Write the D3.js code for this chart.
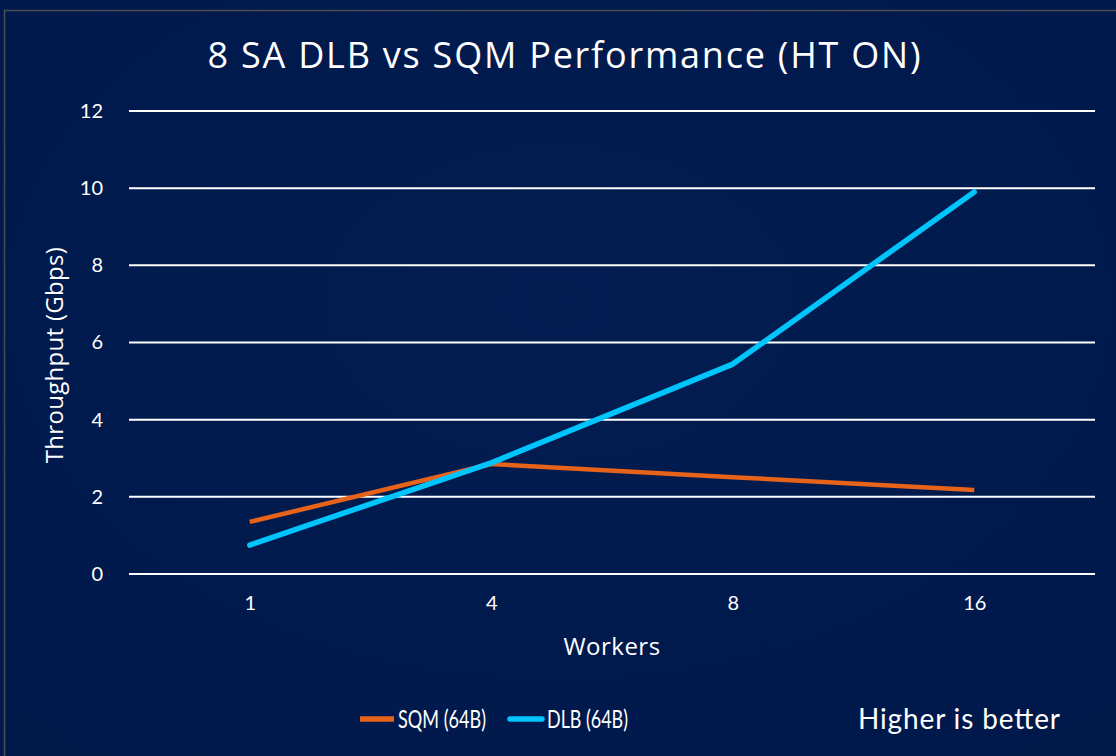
<!DOCTYPE html>
<html>
<head>
<meta charset="utf-8">
<script src="https://cdn.jsdelivr.net/npm/d3@7"></script>
<style>
  html, body { margin: 0; padding: 0; background: #011a4d; }
  svg { display: block; }
</style>
</head>
<body>
<div id="chart"></div>
<script>
// chart data
var workers = ["1", "4", "8", "16"];
var sqm = [1.35, 2.85, 2.51, 2.18];
var dlb = [0.75, 2.88, 5.44, 9.9];
var yTicks = [0, 2, 4, 6, 8, 10, 12];

var W = 1116, H = 756;
var margin = {top: 111, right: 21, bottom: 182, left: 129};
var width = W - margin.left - margin.right;
var height = H - margin.top - margin.bottom;
var font = "Lato, 'Open Sans', sans-serif";
var wide = "'Open Sans', Lato, sans-serif";

var root = d3.select("#chart").append("svg")
    .attr("width", W)
    .attr("height", H);

// background + frame
var grad = root.append("defs").append("radialGradient")
    .attr("id", "bg").attr("cx", "50%").attr("cy", "40%").attr("r", "75%");
grad.append("stop").attr("offset", "0%").attr("stop-color", "#031d52");
grad.append("stop").attr("offset", "100%").attr("stop-color", "#00184a");
root.append("rect").attr("width", W).attr("height", H).attr("fill", "url(#bg)");
root.append("rect")
    .attr("x", 4.5).attr("y", 10.5)
    .attr("width", W + 10).attr("height", H + 10)
    .attr("fill", "none")
    .attr("stroke", "#4a4d55")
    .attr("stroke-width", 1.5);

var svg = root.append("g")
    .attr("transform", "translate(" + margin.left + "," + margin.top + ")");

var x = d3.scalePoint()
    .domain(workers)
    .range([0, width])
    .padding(0.5);

var y = d3.scaleLinear()
    .domain([0, 12])
    .range([height, 0]);

// gridlines
svg.append("g")
  .selectAll("line")
  .data(yTicks)
  .enter()
  .append("line")
    .attr("x1", 0)
    .attr("x2", width)
    .attr("y1", function(d) { return y(d); })
    .attr("y2", function(d) { return y(d); })
    .attr("stroke", "#ffffff")
    .attr("stroke-width", 2);

// y axis labels
var yAxis = svg.append("g")
    .call(d3.axisLeft(y).tickValues(yTicks).tickSize(0).tickPadding(26));
yAxis.select(".domain").remove();
yAxis.selectAll("text")
    .attr("fill", "#ffffff")
    .attr("font-family", font)
    .attr("font-size", 20);

// x axis labels
var xAxis = svg.append("g")
    .attr("transform", "translate(0," + height + ")")
    .call(d3.axisBottom(x).tickSize(0).tickPadding(22));
xAxis.select(".domain").remove();
xAxis.selectAll("text")
    .attr("fill", "#ffffff")
    .attr("font-family", font)
    .attr("font-size", 20);

// lines
var line = d3.line()
    .x(function(d, i) { return x(workers[i]); })
    .y(function(d) { return y(d); });

svg.append("path")
    .datum(sqm)
    .attr("fill", "none")
    .attr("stroke", "#e8631a")
    .attr("stroke-width", 4.5)
    .attr("d", line);

svg.append("path")
    .datum(dlb)
    .attr("fill", "none")
    .attr("stroke", "#00c4fc")
    .attr("stroke-width", 5.5)
    .attr("stroke-linecap", "round")
    .attr("stroke-linejoin", "round")
    .attr("d", line);

// title + axis titles
root.append("text")
    .attr("x", 564)
    .attr("y", 68)
    .attr("text-anchor", "middle")
    .attr("fill", "#ffffff")
    .attr("font-family", wide)
    .attr("font-size", 36)
    .attr("textLength", 713)
    .attr("lengthAdjust", "spacing")
    .text("8 SA DLB vs SQM Performance (HT ON)");

root.append("text")
    .attr("transform", "translate(63,355) rotate(-90)")
    .attr("text-anchor", "middle")
    .attr("fill", "#ffffff")
    .attr("font-family", wide)
    .attr("font-size", 24)
    .attr("letter-spacing", 0.3)
    .text("Throughput (Gbps)");

root.append("text")
    .attr("x", 612)
    .attr("y", 655)
    .attr("text-anchor", "middle")
    .attr("fill", "#ffffff")
    .attr("font-family", wide)
    .attr("font-size", 24)
    .attr("letter-spacing", 0.5)
    .text("Workers");

// legend
var legend = root.append("g");
legend.append("line")
    .attr("x1", 360).attr("x2", 394).attr("y1", 719).attr("y2", 719)
    .attr("stroke", "#e8631a").attr("stroke-width", 5.5);
legend.append("text")
    .attr("x", 398).attr("y", 728)
    .attr("fill", "#ffffff").attr("font-family", font).attr("font-size", 25)
    .attr("textLength", 88).attr("lengthAdjust", "spacingAndGlyphs")
    .text("SQM (64B)");
legend.append("line")
    .attr("x1", 510).attr("x2", 542).attr("y1", 719).attr("y2", 719)
    .attr("stroke", "#00c4fc").attr("stroke-width", 5.5)
    .attr("stroke-linecap", "round");
legend.append("text")
    .attr("x", 547).attr("y", 728)
    .attr("fill", "#ffffff").attr("font-family", font).attr("font-size", 25)
    .attr("textLength", 81).attr("lengthAdjust", "spacingAndGlyphs")
    .text("DLB (64B)");
legend.append("text")
    .attr("x", 858).attr("y", 729)
    .attr("fill", "#ffffff").attr("font-family", font).attr("font-size", 28)
    .attr("textLength", 202).attr("lengthAdjust", "spacing")
    .text("Higher is better");
</script>
</body>
</html>
